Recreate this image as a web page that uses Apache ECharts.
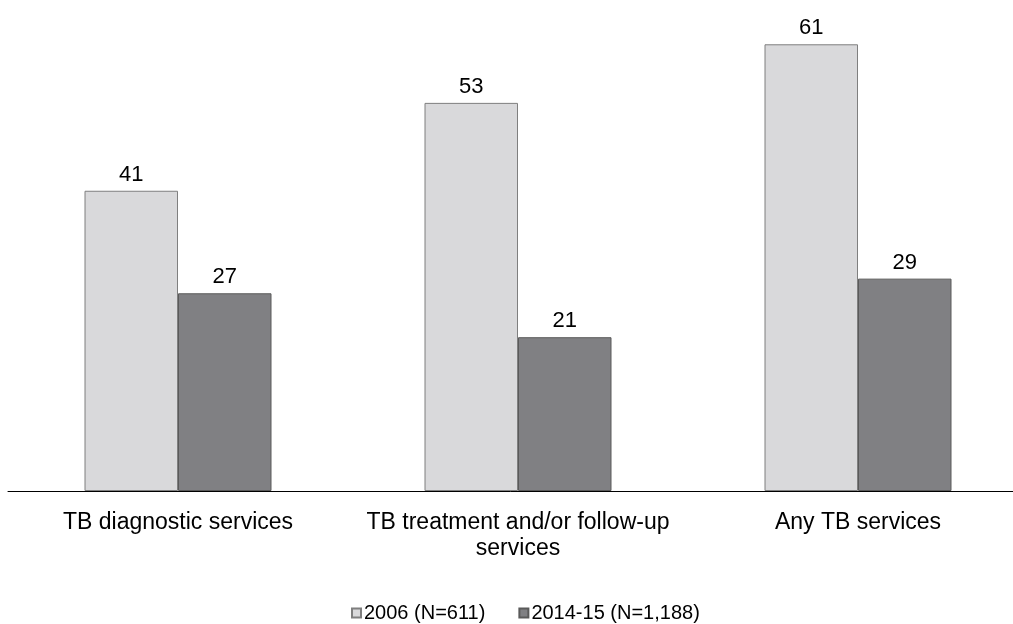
<!DOCTYPE html>
<html>
<head>
<meta charset="utf-8">
<script src="https://cdn.jsdelivr.net/npm/echarts@6/dist/echarts.min.js"></script>
<style>
  html, body { margin: 0; padding: 0; background: #fff; }
  #chart { width: 1013px; height: 624px; }
</style>
</head>
<body>
<div id="chart"></div>
<script>
  const categories = ['TB diagnostic services', 'TB treatment and/or follow-up\nservices', 'Any TB services'];
  const seriesNames = ['2006 (N=611)', '2014-15 (N=1,188)'];
  const values2006 = [41, 53, 61];
  const values2014 = [27, 21, 29];

  const chart = echarts.init(document.getElementById('chart'), null, { renderer: 'canvas' });

  const labelStyle = {
    show: true,
    position: 'top',
    distance: 5,
    color: '#000',
    fontFamily: 'Liberation Sans, Arial, sans-serif',
    fontSize: 22
  };

  chart.setOption({
    animation: false,
    textStyle: { fontFamily: 'Liberation Sans, Arial, sans-serif' },
    legend: {
      top: 598,
      left: 346,
      itemWidth: 9,
      itemHeight: 9,
      itemGap: 33,
      icon: 'rect',
      textStyle: { fontSize: 20, color: '#000', padding: [0, 0, 0, -2] },
      data: seriesNames
    },
    grid: {
      left: 8,
      top: 15,
      width: 1020,
      height: 476,
      outerBoundsMode: 'none'
    },
    xAxis: {
      type: 'category',
      data: categories,
      axisLine: { lineStyle: { color: '#000', width: 1 } },
      axisTick: { show: false },
      axisLabel: {
        interval: 0,
        color: '#000',
        fontSize: 23,
        lineHeight: 26,
        margin: 19
      }
    },
    yAxis: {
      type: 'value',
      min: 0,
      max: 65,
      show: false,
      splitLine: { show: false }
    },
    series: [
      {
        name: seriesNames[0],
        type: 'bar',
        data: values2006,
        barGap: '0%',
        barCategoryGap: '45%',
        itemStyle: { color: '#d9d9db', borderColor: '#7f7f7f', borderWidth: 1 },
        label: labelStyle
      },
      {
        name: seriesNames[1],
        type: 'bar',
        data: values2014,
        itemStyle: { color: '#808083', borderColor: '#5a5a5a', borderWidth: 1 },
        label: labelStyle
      }
    ]
  });
</script>
</body>
</html>
